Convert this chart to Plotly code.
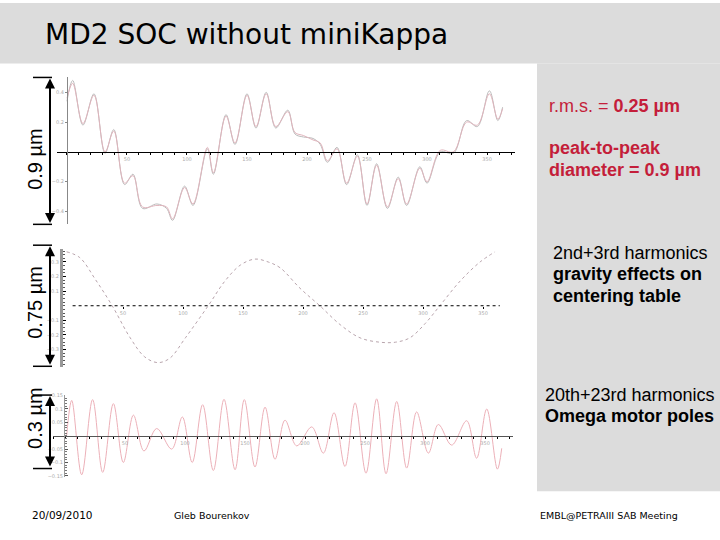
import plotly.graph_objects as go

W, H = 720, 540

# top panel: measured and fitted run-out over one omega turn (deg, um)
p1_deg = [0, 4.75, 13.3, 22.5, 31.7, 39, 48, 55, 63, 75, 83, 88, 98, 105, 117, 122, 132.5, 140, 150, 157.5,
          166, 174, 184, 190, 197, 205, 211, 217, 225, 233, 242, 250, 258, 267, 276, 283, 294, 300, 311, 322,
          333, 342, 352, 359, 363]
p1_meas = [0.34, 0.48, 0.18, 0.39, -0.01, 0.15, -0.22, -0.15, -0.38, -0.35, -0.38, -0.46, -0.23, -0.36, 0.02,
           -0.15, 0.25, 0.05, 0.39, 0.16, 0.40, 0.16, 0.28, 0.12, 0.10, 0.09, 0.05, -0.07, 0.03, -0.22, -0.02,
           -0.36, -0.08, -0.38, -0.17, -0.36, -0.10, -0.21, 0.0, -0.01, 0.21, 0.17, 0.41, 0.21, 0.30]
p1_fit = [0.36, 0.46, 0.19, 0.38, 0.0, 0.14, -0.21, -0.16, -0.37, -0.36, -0.37, -0.45, -0.24, -0.35, 0.03,
          -0.14, 0.24, 0.06, 0.38, 0.17, 0.39, 0.17, 0.27, 0.13, 0.11, 0.08, 0.06, -0.06, 0.02, -0.21, -0.03,
          -0.35, -0.09, -0.37, -0.18, -0.35, -0.11, -0.20, 0.01, 0.0, 0.20, 0.18, 0.39, 0.22, 0.29]

# middle panel: 2nd+3rd harmonics
p2_deg = [3, 14, 27, 41, 56, 68, 79, 89, 102, 121, 135, 148, 160, 171, 181, 197.5, 214, 231, 247.5, 264,
          277, 289, 302, 314, 331, 347.5, 360]
p2_val = [0.37, 0.33, 0.18, 0.0, -0.22, -0.35, -0.39, -0.36, -0.22, 0.0, 0.17, 0.28, 0.32, 0.30, 0.26, 0.12,
          0.0, -0.13, -0.22, -0.25, -0.25, -0.22, -0.12, 0.0, 0.17, 0.30, 0.37]

# bottom panel: 20th+23rd harmonics
p3_deg = [1.4, 5.6, 13.9, 23, 31.4, 40.3, 48.6, 57, 65.8, 76.4, 88.9, 97.8, 106, 114.7, 123.6, 132.5, 141.7,
          149.4, 158.3, 166.7, 175, 183.3, 193.1, 205.6, 215.3, 224.2, 233.3, 241.7, 250.8, 259.7, 267.5,
          276.4, 284.7, 293, 302.8, 311.1, 322.2, 334.7, 343, 351.4, 360.3, 363.9]
p3_val = [0.0, 0.132, -0.146, 0.135, -0.137, 0.12, -0.10, 0.077, -0.057, 0.027, -0.05, 0.07, -0.10, 0.116,
          -0.13, 0.136, -0.127, 0.135, -0.117, 0.107, -0.088, 0.058, -0.038, 0.033, -0.065, 0.086, -0.115,
          0.123, -0.14, 0.138, -0.142, 0.128, -0.121, 0.089, -0.065, 0.042, -0.035, 0.056, -0.084, 0.10,
          -0.125, -0.047]

x_ticks = [50, 100, 150, 200, 250, 300, 350]


def px(x):
    return x / W


def py(y):
    return 1 - y / H


GRAY = '#dcdcdc'
RED = '#c41e3a'
tick_font = dict(size=5, color='#aaaaaa', family='DejaVu Sans')

fig = go.Figure()

fig.add_trace(go.Scatter(x=p1_deg, y=p1_meas, mode='lines', line=dict(color='#bbbbbb', width=1, shape='spline'),
                         xaxis='x', yaxis='y'))
fig.add_trace(go.Scatter(x=p1_deg, y=p1_fit, mode='lines', line=dict(color='#e0b4bc', width=1, shape='spline'),
                         xaxis='x', yaxis='y'))
fig.add_trace(go.Scatter(x=p2_deg, y=p2_val, mode='lines',
                         line=dict(color='#b8a4ac', width=1, dash='dot', shape='spline'),
                         xaxis='x2', yaxis='y2'))
fig.add_trace(go.Scatter(x=p3_deg, y=p3_val, mode='lines', line=dict(color='#ecb0b8', width=1, shape='spline'),
                         xaxis='x3', yaxis='y3'))

common_x = dict(showgrid=False, zeroline=False, tickvals=x_ticks, tickfont=tick_font,
                ticks='outside', ticklen=2, tickcolor='black')
common_y = dict(showgrid=False, zeroline=False, tickfont=tick_font)

shapes = [
    dict(type='rect', xref='paper', yref='paper', x0=0, x1=1, y0=py(61), y1=1, fillcolor=GRAY,
         line=dict(width=0), layer='below'),
    dict(type='rect', xref='paper', yref='paper', x0=px(537), x1=1, y0=py(492), y1=py(61), fillcolor=GRAY,
         line=dict(width=0), layer='below'),
    # dotted zero axis of middle panel
    dict(type='line', xref='x2', yref='y2', x0=8, x1=364, y0=0, y1=0, line=dict(color='black', width=1, dash='dot')),
]

annotations = []

# size brackets on the left
brackets = [(75, 223, '0.9 µm', 157), (244, 366, '0.75 µm', 302), (395, 469, '0.3 µm', 418)]
for top, bottom, label, mid in brackets:
    shapes.append(dict(type='line', xref='paper', yref='paper', x0=px(33), x1=px(52), y0=py(top), y1=py(top),
                       line=dict(color='black', width=1.5)))
    shapes.append(dict(type='line', xref='paper', yref='paper', x0=px(33), x1=px(52), y0=py(bottom),
                       y1=py(bottom), line=dict(color='black', width=1.5)))
    annotations.append(dict(xref='paper', yref='paper', x=px(50), y=py(top + 1), ax=0, ay=bottom - top - 2,
                            axref='pixel', ayref='pixel', text='', showarrow=True, arrowhead=2,
                            arrowside='end+start', arrowsize=1, arrowwidth=2, arrowcolor='black'))
    annotations.append(dict(xref='paper', yref='paper', x=px(35), y=py(mid), text=label, textangle=-90,
                            showarrow=False, font=dict(family='Liberation Sans', size=20, color='black'),
                            xanchor='center', yanchor='middle'))


def note(x, y, text, size=18, color='black', family='Liberation Sans'):
    annotations.append(dict(xref='paper', yref='paper', x=px(x), y=py(y), text=text, showarrow=False,
                            xanchor='left', yanchor='middle', font=dict(family=family, size=size, color=color)))


note(43, 32, 'MD2 SOC without miniKappa', size=28, family='DejaVu Sans')
note(547, 104, 'r.m.s. = <b>0.25 µm</b>', color=RED)
note(547, 146, '<b>peak-to-peak</b>', color=RED)
note(547, 168, '<b>diameter = 0.9 µm</b>', color=RED)
note(551, 252, '2nd+3rd harmonics')
note(551, 273, '<b>gravity effects on</b>')
note(551, 295, '<b>centering table</b>')
note(543, 395, '20th+23rd harmonics')
note(543, 416, '<b>Omega motor poles</b>')
note(30, 516, '20/09/2010', size=10.5, family='DejaVu Sans')
note(172, 516, 'Gleb Bourenkov', size=9.5, family='DejaVu Sans')
note(538, 516, 'EMBL@PETRAIII SAB Meeting', size=9.5, family='DejaVu Sans')

fig.update_layout(
    width=W, height=H,
    margin=dict(l=0, r=0, t=0, b=0),
    paper_bgcolor='white', plot_bgcolor='rgba(0,0,0,0)',
    showlegend=False,
    xaxis=dict(domain=[px(57), px(515)], range=[-8.3, 373.3], anchor='free', position=py(150),
               showline=True, linecolor='black', linewidth=1,
               minor=dict(dtick=10, tick0=0, ticks='outside', ticklen=2, tickcolor='black'), **common_x),
    yaxis=dict(domain=[py(223), py(75)], range=[-0.487, 0.5], anchor='free', position=px(67),
               showline=True, linecolor='#888888', tickvals=[-0.4, -0.2, 0.2, 0.4], ticks='outside',
               ticklen=2, tickcolor='#888888', **common_y),
    xaxis2=dict(domain=[px(63), px(505)], range=[0, 368.3], anchor='free', position=py(305), showline=False,
                **common_x),
    yaxis2=dict(domain=[py(367), py(248)], range=[-0.422, 0.388], anchor='x2', showline=True,
                linecolor='#999999', linewidth=3, tickvals=[-0.3, -0.2, -0.1, 0.1, 0.2, 0.3], ticks='inside',
                ticklen=3, tickcolor='black',
                minor=dict(dtick=0.025, ticks='inside', ticklen=2, tickcolor='#555555'), **common_y),
    xaxis3=dict(domain=[px(53), px(513)], range=[-10, 373.3], anchor='free', position=py(436),
                showline=True, linecolor='#555555', linewidth=1,
                minor=dict(dtick=10, tick0=0, ticks='outside', ticklen=2, tickcolor='black'), **common_x),
    yaxis3=dict(domain=[py(478), py(395)], range=[-0.156, 0.152], anchor='free', position=px(64),
                showline=True, linecolor='#999999', tickvals=[-0.15, -0.1, -0.05, 0.05, 0.1, 0.15],
                ticks='inside', ticklen=3, tickcolor='#555555',
                minor=dict(dtick=0.01, ticks='inside', ticklen=2, tickcolor='#777777'), **common_y),
    shapes=shapes,
    annotations=annotations,
)

# the page body has a default 8px margin; drop it so the slide sits at the window origin
fig.write_html('out.html', config={'displayModeBar': False},
               post_script="document.body.style.margin='0';")
